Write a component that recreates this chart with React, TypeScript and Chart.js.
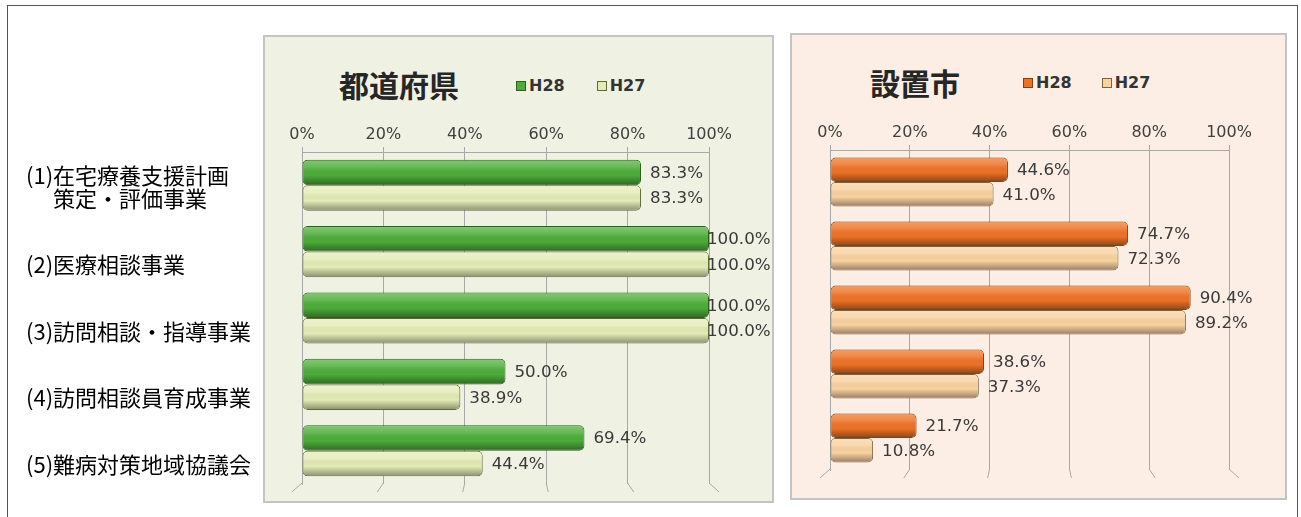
import React, { useEffect, useRef } from "react";
import { Chart, registerables } from "chart.js";

Chart.register(...registerables);

// ---------- data ----------
const categories: (string | string[])[] = [
  ["(1)在宅療養支援計画", "\u3000 策定・評価事業", ""],
  "(2)医療相談事業",
  "(3)訪問相談・指導事業",
  "(4)訪問相談員育成事業",
  "(5)難病対策地域協議会",
];
const seriesNames = ["H28", "H27"];
const prefH28 = [83.3, 100.0, 100.0, 50.0, 69.4];
const prefH27 = [83.3, 100.0, 100.0, 38.9, 44.4];
const cityH28 = [44.6, 74.7, 90.4, 38.6, 21.7];
const cityH27 = [41.0, 72.3, 89.2, 37.3, 10.8];
const xTicks = [0, 20, 40, 60, 80, 100];
const panelTitles = ["都道府県", "設置市"];

// ---------- styles ----------
const greenPalette = {
  fill: ["#4DAD39", "#E4ECB6"],
  border: ["#2E5E1C", "#5C6A36"],
};
const orangePalette = {
  fill: ["#EE7226", "#F9D2A0"],
  border: ["#7A4516", "#786540"],
};

const floorLines = {
  id: "floorLines",
  beforeDatasetsDraw(chart: any) {
    const ctx: CanvasRenderingContext2D = chart.ctx;
    const area = chart.chartArea;
    const xs = chart.scales.x;
    const cx = (area.left + area.right) / 2;
    ctx.save();
    ctx.strokeStyle = "#A8A8A8";
    ctx.lineWidth = 1;
    xs.ticks.forEach((t: any) => {
      const px = xs.getPixelForValue(t.value);
      ctx.beginPath();
      ctx.moveTo(px, area.bottom - 1);
      ctx.lineTo(px + (px - cx) * 0.05, area.bottom + 8);
      ctx.stroke();
    });
    ctx.restore();
  },
};

const barDecor = {
  id: "barDecor",
  afterDatasetsDraw(chart: any) {
    const ctx: CanvasRenderingContext2D = chart.ctx;
    const area = chart.chartArea;
    chart.data.datasets.forEach((ds: any, di: number) => {
      const meta = chart.getDatasetMeta(di);
      meta.data.forEach((el: any) => {
        const { x, y, base, height } = el.getProps(["x", "y", "base", "height"], true);
        const top = y - height / 2;
        const left = Math.min(x, base);
        const right = Math.max(x, base);
        const g = ctx.createLinearGradient(0, top, 0, top + height);
        g.addColorStop(0, "rgba(255,255,255,0.32)");
        g.addColorStop(0.3, "rgba(255,255,255,0.14)");
        g.addColorStop(0.6, "rgba(0,0,0,0)");
        g.addColorStop(1, "rgba(0,0,0,0.40)");
        ctx.save();
        ctx.beginPath();
        if ((ctx as any).roundRect) {
          (ctx as any).roundRect(left + 1, top + 1, right - left - 2, height - 2, 4);
        } else {
          ctx.rect(left + 1, top + 1, right - left - 2, height - 2);
        }
        ctx.fillStyle = g;
        ctx.fill();
        ctx.restore();
      });
    });
    chart.data.datasets.forEach((ds: any, di: number) => {
      const meta = chart.getDatasetMeta(di);
      meta.data.forEach((el: any, i: number) => {
        const { x, y } = el.getProps(["x", "y"], true);
        const v = ds.data[i] as number;
        ctx.save();
        ctx.font = "16.7px 'DejaVu Sans'";
        ctx.fillStyle = "#3A3A3A";
        ctx.textBaseline = "middle";
        ctx.textAlign = "left";
        ctx.fillText(v.toFixed(1) + "%", Math.min(x + 9, area.right - 2), y + 1);
        ctx.restore();
      });
    });
  },
};

type PanelProps = {
  h28: number[];
  h27: number[];
  palette: { fill: string[]; border: string[] };
  left: number;
  top: number;
  width: number;
  height: number;
  padding: { left: number; right: number; top: number; bottom: number };
  yWidth: number;
  xHeight: number;
  showCategories: boolean;
  catPct: number;
};

function BarPanel(p: PanelProps) {
  const ref = useRef<HTMLCanvasElement>(null);
  useEffect(() => {
    if (!ref.current) return;
    const chart = new Chart(ref.current, {
      type: "bar",
      data: {
        labels: categories,
        datasets: [
          {
            label: seriesNames[0],
            data: p.h28,
            backgroundColor: p.palette.fill[0],
            borderColor: p.palette.border[0],
            borderWidth: 1,
            borderRadius: 5,
            borderSkipped: false,
          },
          {
            label: seriesNames[1],
            data: p.h27,
            backgroundColor: p.palette.fill[1],
            borderColor: p.palette.border[1],
            borderWidth: 1,
            borderRadius: 5,
            borderSkipped: false,
          },
        ],
      },
      options: {
        indexAxis: "y",
        animation: false,
        responsive: false,
        events: [],
        layout: { padding: p.padding },
        datasets: {
          bar: { barPercentage: 1, categoryPercentage: p.catPct },
        },
        plugins: {
          legend: { display: false },
          tooltip: { enabled: false },
          title: { display: false },
        },
        scales: {
          x: {
            position: "top",
            min: 0,
            max: 100,
            afterBuildTicks: (s: any) => {
              s.ticks = xTicks.map((v) => ({ value: v }));
            },
            afterFit: (s: any) => {
              s.height = p.xHeight;
              s.paddingLeft = 0;
              s.paddingRight = 0;
            },
            ticks: {
              callback: (v: any) => v + "%",
              font: { family: "'DejaVu Sans'", size: 16 },
              color: "#404040",
              padding: 3,
              maxRotation: 0,
            },
            grid: { color: "#A8A8A8", tickLength: 5, lineWidth: 1 },
            border: { display: true, color: "#A8A8A8" },
          },
          y: {
            position: "left",
            afterFit: (s: any) => {
              s.width = p.yWidth;
              s.paddingTop = 0;
              s.paddingBottom = 0;
            },
            grid: { display: false },
            border: { display: true, color: "#A8A8A8" },
            ticks: {
              display: p.showCategories,
              autoSkip: false,
              crossAlign: "far",
              labelOffset: 13.5,
              color: "#000000",
              font: { family: "'Noto Sans CJK JP'", size: 22, lineHeight: 1.05 },
            },
          },
        },
      },
      plugins: [floorLines, barDecor],
    } as any);
    return () => chart.destroy();
  }, []);
  return (
    <canvas
      ref={ref}
      width={p.width}
      height={p.height}
      style={{ position: "absolute", left: p.left, top: p.top, width: p.width, height: p.height }}
    />
  );
}

function Legend({ left, top, palette, gap }: { left: number; top: number; palette: { fill: string[]; border: string[] }; gap: number }) {
  return (
    <div style={{ position: "absolute", left, top, display: "flex", alignItems: "center", height: 18 }}>
      {seriesNames.map((n, i) => (
        <div key={n} style={{ display: "flex", alignItems: "center", marginRight: i === 0 ? gap : 0 }}>
          <div
            style={{
              width: 8,
              height: 8,
              background: palette.fill[i],
              border: `1px solid ${palette.border[i]}`,
              marginRight: 3,
            }}
          />
          <span style={{ font: "bold 16px 'DejaVu Sans'", color: "#333333", lineHeight: "18px" }}>{n}</span>
        </div>
      ))}
    </div>
  );
}

const titleStyle: React.CSSProperties = {
  position: "absolute",
  font: "bold 30px 'Noto Sans CJK JP'",
  lineHeight: "30px",
  color: "#262626",
  whiteSpace: "nowrap",
};

export default function App() {
  return (
    <div style={{ position: "fixed", left: 0, top: 0, width: 1301, height: 517, background: "#FFFFFF", overflow: "hidden" }}>
      <div
        style={{
          position: "absolute",
          left: 7,
          top: 5,
          width: 1291,
          height: 530,
          border: "1px solid #555555",
          boxSizing: "border-box",
        }}
      />
      <div
        style={{
          position: "absolute",
          left: 263,
          top: 35,
          width: 511,
          height: 468,
          background: "#EFF1E3",
          border: "2px solid #C4C4C4",
          boxSizing: "border-box",
        }}
      />
      <div
        style={{
          position: "absolute",
          left: 790,
          top: 33,
          width: 497,
          height: 467,
          background: "#FCEEE4",
          border: "2px solid #C4C4C4",
          boxSizing: "border-box",
        }}
      />
      <div style={{ ...titleStyle, left: 339, top: 69 }}>{panelTitles[0]}</div>
      <div style={{ ...titleStyle, left: 870, top: 67 }}>{panelTitles[1]}</div>
      <Legend left={516} top={77} palette={greenPalette} gap={32} />
      <Legend left={1023} top={74} palette={orangePalette} gap={30} />
      <BarPanel
        h28={prefH28}
        h27={prefH27}
        palette={greenPalette}
        left={14}
        top={36}
        width={760}
        height={467}
        padding={{ left: 12, right: 65, top: 0, bottom: 19 }}
        yWidth={276}
        xHeight={116}
        showCategories={true}
        catPct={0.77}
      />
      <BarPanel
        h28={cityH28}
        h27={cityH27}
        palette={orangePalette}
        left={790}
        top={33}
        width={497}
        height={467}
        padding={{ left: 0, right: 58, top: 0, bottom: 30 }}
        yWidth={40}
        xHeight={117}
        showCategories={false}
        catPct={0.766}
      />
    </div>
  );
}
